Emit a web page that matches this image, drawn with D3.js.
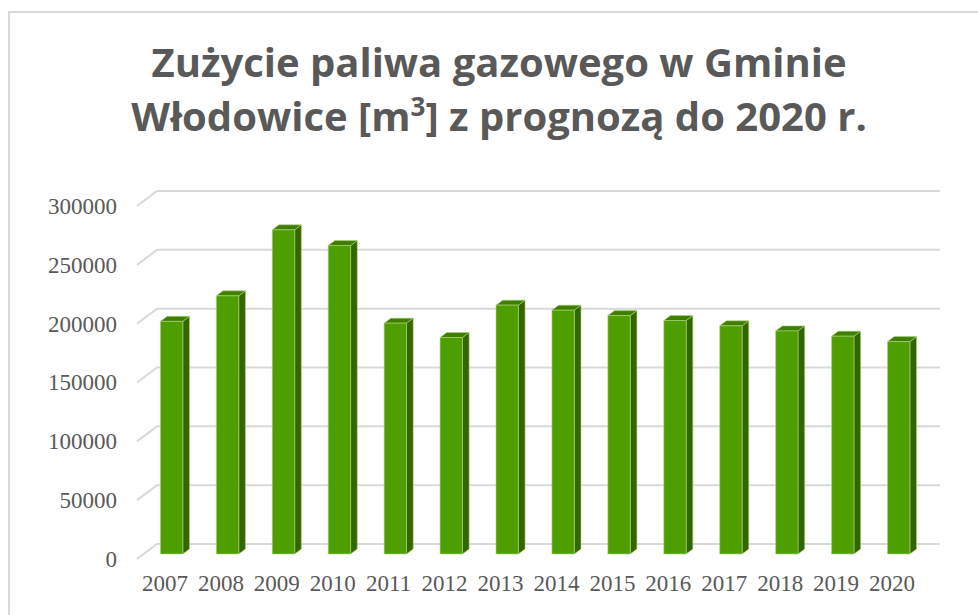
<!DOCTYPE html>
<html>
<head>
<meta charset="utf-8">
<script src="https://cdn.jsdelivr.net/npm/d3@7/dist/d3.min.js"></script>
<style>
  body { margin: 0; background: #fff; }
  svg { display: block; }
</style>
</head>
<body>
<svg id="chart" width="978" height="615"></svg>
<script>
var years = ["2007", "2008", "2009", "2010", "2011", "2012", "2013",
             "2014", "2015", "2016", "2017", "2018", "2019", "2020"];
var consumption = [197700, 219400, 275500, 262200, 196200, 184000, 211500,
                   207200, 202600, 198400, 193900, 189600, 185100, 180500];
var yTicks = [0, 50000, 100000, 150000, 200000, 250000, 300000];

var svg = d3.select("#chart");

// chart frame
svg.append("rect")
    .attr("x", 9).attr("y", 12)
    .attr("width", 990).attr("height", 640)
    .attr("fill", "#fff")
    .attr("stroke", "#d9d9d9")
    .attr("stroke-width", 2);

// title
var title = svg.append("text")
    .attr("text-anchor", "middle")
    .style("font-family", "'Open Sans', sans-serif")
    .style("font-weight", "bold")
    .style("font-size", "40px")
    .attr("fill", "#595959");
title.append("tspan").attr("x", 499).attr("y", 77)
    .text("Zużycie paliwa gazowego w Gminie");
var l2 = title.append("tspan").attr("x", 499).attr("y", 131);
l2.append("tspan").text("Włodowice [m");
l2.append("tspan").attr("dy", -15).style("font-size", "26px").text("3");
l2.append("tspan").attr("dy", 15).text("] z prognozą do 2020 r.");

// 3d geometry
var left = 137, right = 920, floorY = 559, topY = 206;
var depthX = 20, depthY = -15;

var x = d3.scaleBand()
    .domain(years)
    .range([left, right])
    .paddingInner(0.6)
    .paddingOuter(0.3);

var y = d3.scaleLinear()
    .domain([0, 300000])
    .range([floorY, topY]);

// gridlines (front edge diagonal + back wall line)
svg.append("g").selectAll("path")
    .data(yTicks)
    .enter()
    .append("path")
    .attr("d", function (d) {
        return "M" + left + "," + y(d) +
               "L" + (left + depthX) + "," + (y(d) + depthY) +
               "L" + (right + depthX) + "," + (y(d) + depthY);
    })
    .attr("fill", "none")
    .attr("stroke", "#d9d9d9")
    .attr("stroke-width", 2);

// bars sit in the middle third of the depth
var ox = depthX / 3, oy = depthY / 3;
var bw = x.bandwidth();

var bars = svg.append("g").selectAll("g")
    .data(years.map(function (yr, i) { return { year: yr, value: consumption[i] }; }))
    .enter()
    .append("g");

bars.append("polygon")   // side
    .attr("points", function (d) {
        var x0 = x(d.year) + ox + bw, t = y(d.value) + oy, b = floorY + oy;
        return [[x0, t], [x0 + ox, t + oy], [x0 + ox, b + oy], [x0, b]].join(" ");
    })
    .attr("fill", "#336600");

bars.append("polygon")   // top
    .attr("points", function (d) {
        var x0 = x(d.year) + ox, t = y(d.value) + oy;
        return [[x0, t], [x0 + ox, t + oy], [x0 + bw + ox, t + oy], [x0 + bw, t]].join(" ");
    })
    .attr("fill", "#3f7f00");

bars.append("rect")      // front
    .attr("x", function (d) { return x(d.year) + ox; })
    .attr("y", function (d) { return y(d.value) + oy; })
    .attr("width", bw)
    .attr("height", function (d) { return floorY - y(d.value); })
    .attr("fill", "#4f9e00");

bars.selectAll("*")
    .attr("stroke", "#a9d37a")
    .attr("stroke-width", 0.6)
    .attr("stroke-linejoin", "round");

// y axis labels
var yAxis = svg.append("g")
    .attr("transform", "translate(" + (left - 20) + ",0)")
    .call(d3.axisLeft(y).tickValues(yTicks).tickSize(0).tickPadding(0).tickFormat(d3.format("d")));
yAxis.select(".domain").remove();
yAxis.selectAll("text")
    .style("font-family", "'Liberation Serif', serif")
    .style("font-size", "23px")
    .attr("fill", "#595959");

// x axis labels
var xAxis = svg.append("g")
    .attr("transform", "translate(0," + (floorY + 16) + ")")
    .call(d3.axisBottom(x).tickSize(0).tickPadding(0));
xAxis.select(".domain").remove();
xAxis.selectAll("text")
    .style("font-family", "'Liberation Serif', serif")
    .style("font-size", "23px")
    .attr("fill", "#595959");
</script>
</body>
</html>
